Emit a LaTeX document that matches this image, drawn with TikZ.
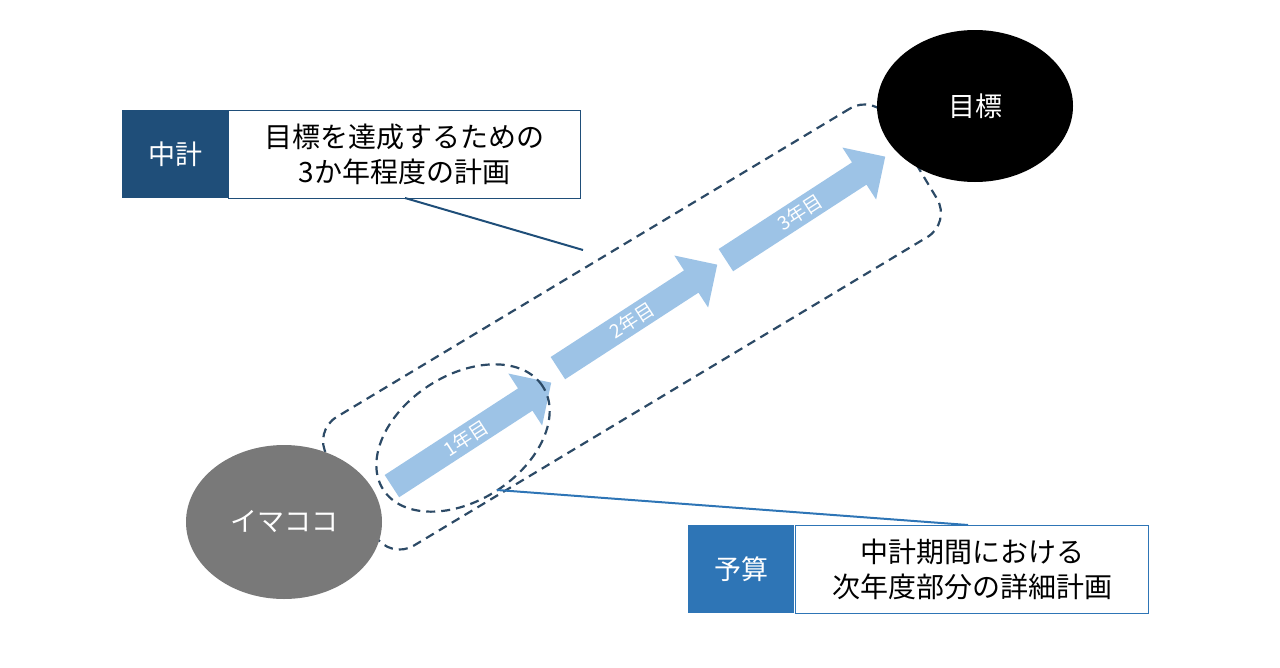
\documentclass[tikz,border=0pt]{standalone}
\usepackage{fontspec}
\setmainfont{Noto Sans CJK JP}
\usetikzlibrary{shapes.geometric,shapes.arrows}
\definecolor{dk}{HTML}{1F4E79}
\definecolor{md}{HTML}{2E75B6}
\definecolor{lb}{HTML}{9DC3E6}
\definecolor{dash}{HTML}{2C4A66}
\tikzset{
 arr/.style={single arrow,fill=lb,draw=none,rotate=33,minimum height=190pt,minimum width=62pt,single arrow head extend=12pt,inner sep=0pt,text=white,font=\fontsize{19}{19}\selectfont},
 lbl/.style={draw=md,line width=1pt,fill=white,minimum height=88pt,align=center,font=\fontsize{28}{35}\selectfont,inner sep=0pt},
 tag/.style={minimum width=106pt,minimum height=88pt,text=white,font=\fontsize{27}{27}\selectfont,inner sep=0pt},
 dsh/.style={draw=dash,line width=2.2pt,dash pattern=on 9pt off 6pt}
}
\begin{document}
\begin{tikzpicture}[x=1pt,y=-1pt]
\useasboundingbox (0,0) rectangle (1280,667);
\node[dsh,rectangle,rounded corners=28pt,rotate=31,minimum width=655pt,minimum height=150pt] (mid) at (632,327) {};
\node[ellipse,fill=gray!95!black,minimum width=196pt,minimum height=154pt,text=white,font=\fontsize{27}{27}\selectfont] (now) at (284,522) {イマココ};
\node[ellipse,fill=black,minimum width=196pt,minimum height=152pt,text=white,font=\fontsize{27}{27}\selectfont] (goal) at (975,106) {目標};
\node[arr] (a1) at (466,438) {1年目};
\node[arr] (a2) at (632,320) {2年目};
\node[arr] (a3) at (800,212) {3年目};
\node[dsh,ellipse,rotate=33,minimum width=190pt,minimum height=125pt] (e1) at (463,438) {};
\node[tag,fill=dk,anchor=north west] (t1) at (122,110) {中計};
\node[lbl,draw=dk,anchor=north west,minimum width=352pt] (b1) at (228,110) {目標を達成するための\\3か年程度の計画};
\node[tag,fill=md,anchor=north west] (t2) at (688,525) {予算};
\node[lbl,anchor=north west,minimum width=353pt] (b2) at (795,525) {中計期間における\\次年度部分の詳細計画};
\coordinate (p1) at (583,250);
\coordinate (p2) at (497,490);
\draw[dk,line width=2pt] (405,198) -- (p1);
\draw[md,line width=2pt] (p2) -- (b2.north west -| 968,525);
\end{tikzpicture}
\end{document}
